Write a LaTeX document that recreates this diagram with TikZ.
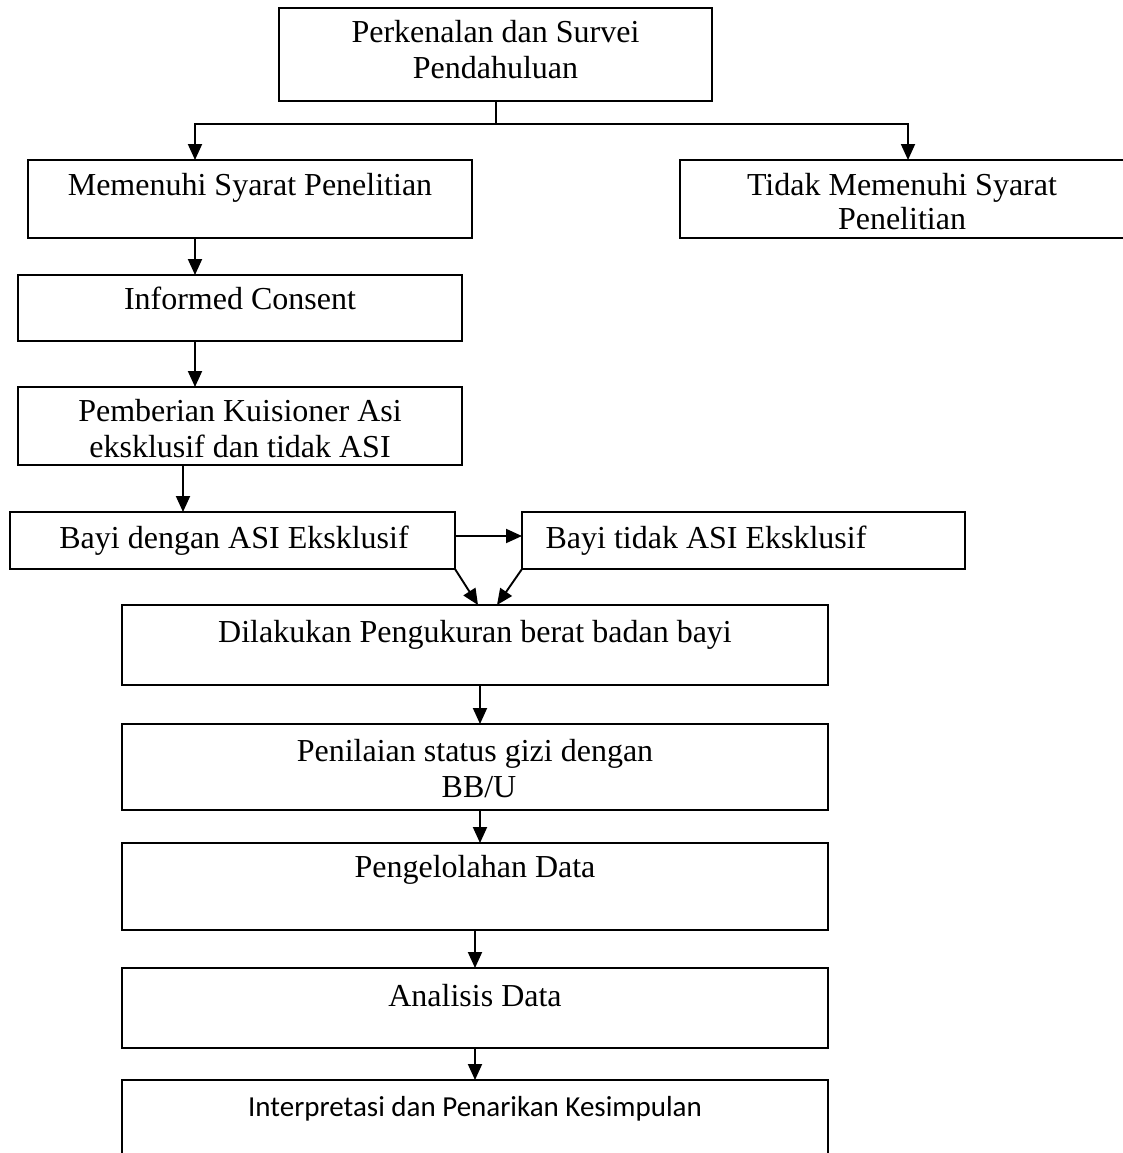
\documentclass[tikz,border=0pt]{standalone}
\usepackage{fontspec}
\setmainfont{Liberation Serif}
\newfontfamily\calibrifont{Carlito}
\usetikzlibrary{arrows.meta}
\begin{document}
\begin{tikzpicture}[x=1pt,y=-1pt,
  box/.style={draw, line width=1.9pt, inner sep=0pt, outer sep=0pt, anchor=north west},
  txt/.style={inner sep=0pt, anchor=base, font=\fontsize{32}{37}\selectfont},
  ctxt/.style={inner sep=0pt, anchor=base, font=\calibrifont\fontsize{29}{34}\selectfont},
  arr/.style={line width=1.9pt, -{Triangle[width=14pt,length=16pt]}},
  ln/.style={line width=1.9pt}]
\clip (0,0) rectangle (1123,1153);
\fill[white] (0,0) rectangle (1123,1153);
% boxes
\node[box, minimum width=433pt, minimum height=93pt] (b1) at (279,8) {};
\node[box, minimum width=444pt, minimum height=78pt] (b2) at (28,160) {};
\node[box, minimum width=446pt, minimum height=78pt] (b3) at (680,160) {};
\node[box, minimum width=444pt, minimum height=66pt] (b4) at (18,275) {};
\node[box, minimum width=444pt, minimum height=78pt] (b5) at (18,387) {};
\node[box, minimum width=445pt, minimum height=57pt] (b6) at (10,512) {};
\node[box, minimum width=443pt, minimum height=57pt] (b7) at (522,512) {};
\node[box, minimum width=706pt, minimum height=80pt] (b8) at (122,605) {};
\node[box, minimum width=706pt, minimum height=86pt] (b9) at (122,724) {};
\node[box, minimum width=706pt, minimum height=87pt] (b10) at (122,843) {};
\node[box, minimum width=706pt, minimum height=80pt] (b11) at (122,968) {};
\node[box, minimum width=706pt, minimum height=90pt] (b12) at (122,1080) {};
% texts
\node[txt] (t1a) at (495.5,43) {Perkenalan dan Survei};
\node[txt] (t1b) at (495.5,79) {Pendahuluan};
\node[txt] (t2) at (250,195) {Memenuhi Syarat Penelitian};
\node[txt] (t3a) at (902,195) {Tidak Memenuhi Syarat};
\node[txt] (t3b) at (902,229) {Penelitian};
\node[txt] (t4) at (240,309) {Informed Consent};
\node[txt] (t5a) at (240,421) {Pemberian Kuisioner Asi};
\node[txt] (t5b) at (240,457) {eksklusif dan tidak ASI};
\node[txt] (t6) at (234,548) {Bayi dengan ASI Eksklusif};
\node[txt] (t7) at (706,548) {Bayi tidak ASI Eksklusif};
\node[txt] (t8) at (475,642) {Dilakukan Pengukuran berat badan bayi};
\node[txt] (t9a) at (475,761) {Penilaian status gizi dengan};
\node[txt] (t9b) at (479,797) {BB/U};
\node[txt] (t10) at (475,877) {Pengelolahan Data};
\node[txt] (t11) at (475,1006) {Analisis Data};
\node[ctxt] (t12) at (475,1116) {Interpretasi dan Penarikan Kesimpulan};
% helper coordinates
\coordinate (xa) at (195,0);
\coordinate (xb) at (908,0);
\coordinate (xc) at (183,0);
\coordinate (xd) at (480,0);
\coordinate (xe) at (475,0);
\coordinate (xf) at (478,0);
\coordinate (xg) at (497,0);
\coordinate (xm) at (496,0);
\coordinate (yj) at (0,124);
\coordinate (yb) at (0,536);
% connectors
\draw[ln] (b1.south -| xm) -- (xm |- yj);
\draw[arr] (xm |- yj) -| (b2.north -| xa);
\draw[arr] (xm |- yj) -| (b3.north -| xb);
\draw[arr] (b2.south -| xa) -- (b4.north -| xa);
\draw[arr] (b4.south -| xa) -- (b5.north -| xa);
\draw[arr] (b5.south -| xc) -- (b6.north -| xc);
\draw[arr] (b6.east |- yb) -- (b7.west |- yb);
\draw[arr] (b6.south east) -- (b8.north -| xf);
\draw[arr] (b7.south west) -- (b8.north -| xg);
\draw[arr] (b8.south -| xd) -- (b9.north -| xd);
\draw[arr] (b9.south -| xd) -- (b10.north -| xd);
\draw[arr] (b10.south -| xe) -- (b11.north -| xe);
\draw[arr] (b11.south -| xe) -- (b12.north -| xe);
\end{tikzpicture}
\end{document}
